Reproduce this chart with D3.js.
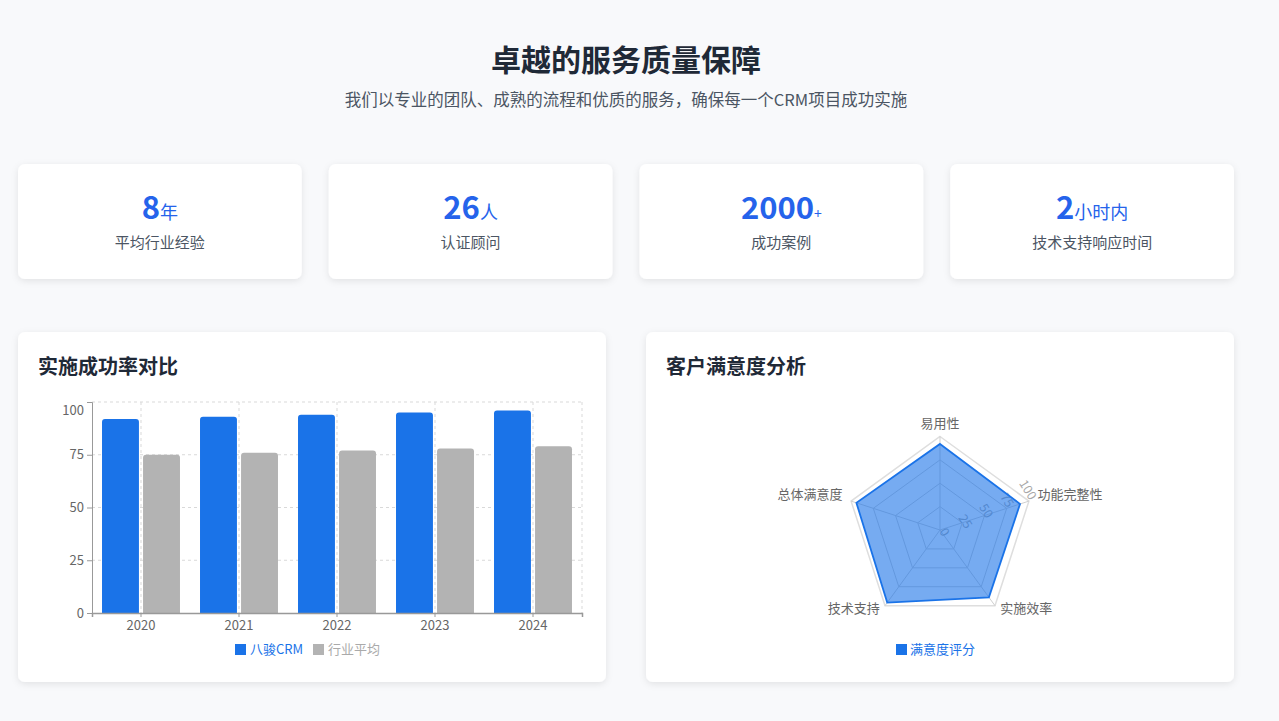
<!DOCTYPE html>
<html><head><meta charset="utf-8">
<script src="https://cdn.jsdelivr.net/npm/d3@7"></script>
<style>
html,body{margin:0;padding:0;background:#f8f9fb;}
svg{display:block;font-family:"Noto Sans CJK SC","Noto Sans",sans-serif;}
</style></head>
<body>
<svg id="c" width="1279" height="721"></svg>
<script>
// ---- data ----
const pageTitle = "卓越的服务质量保障";
const pageSubtitle = "我们以专业的团队、成熟的流程和优质的服务，确保每一个CRM项目成功实施";
const statValues = ["8", "26", "2000", "2"];
const statUnits = ["年", "人", "+", "小时内"];
const statLabels = ["平均行业经验", "认证顾问", "成功案例", "技术支持响应时间"];

const barTitle = "实施成功率对比";
const years = ["2020", "2021", "2022", "2023", "2024"];
const seriesNames = ["八骏CRM", "行业平均"];
const crmRate = [92, 93, 94, 95, 96];
const industryRate = [75, 76, 77, 78, 79];
const yTicks = [0, 25, 50, 75, 100];

const radarTitle = "客户满意度分析";
const radarAxes = ["易用性", "功能完整性", "实施效率", "技术支持", "总体满意度"];
const radarSeries = "满意度评分";
const satisfaction = [92, 90, 89, 96, 94];
const radarTicks = [0, 25, 50, 75, 100];

// ---- drawing ----
const svg = d3.select("#c");
const blue = "#1a73e8", gray = "#b3b3b3", numBlue = "#2563eb";
const FONT = "'Noto Sans CJK SC','Noto Sans',sans-serif";
const defs = svg.append("defs");
const f = defs.append("filter").attr("id","sh").attr("x","-10%").attr("y","-10%").attr("width","120%").attr("height","130%");
f.append("feDropShadow").attr("dx",0).attr("dy",2).attr("stdDeviation",3.5).attr("flood-color","#000").attr("flood-opacity",0.09);

svg.append("text").attr("x",626).attr("y",71).attr("text-anchor","middle")
  .attr("font-size",30).attr("font-weight",700).attr("fill","#1f2937").text(pageTitle);
svg.append("text").attr("x",626).attr("y",106).attr("text-anchor","middle")
  .attr("font-size",16.5).attr("fill","#4b5563").text(pageSubtitle);

// stat cards
const cardX = d3.scaleBand().domain(d3.range(statValues.length)).range([18, 1234]).paddingInner(0.087);
statValues.forEach((v,i)=>{
  const x = cardX(i), w = cardX.bandwidth();
  svg.append("rect").attr("x",x).attr("y",164).attr("width",w).attr("height",115).attr("rx",7)
    .attr("fill","#fff").attr("filter","url(#sh)");
  const t = svg.append("text").attr("x",x+w/2).attr("y",219).attr("text-anchor","middle").attr("fill",numBlue);
  t.append("tspan").attr("font-size",31).attr("font-weight",700).text(v);
  t.append("tspan").attr("font-size", statUnits[i]==="+"?14:18).text(statUnits[i]);
  svg.append("text").attr("x",x+w/2).attr("y",248).attr("text-anchor","middle")
    .attr("font-size",15).attr("fill","#4b5563").text(statLabels[i]);
});

// panels
[[18,barTitle],[646,radarTitle]].forEach(([x,t])=>{
  svg.append("rect").attr("x",x).attr("y",332).attr("width",588).attr("height",350).attr("rx",7)
    .attr("fill","#fff").attr("filter","url(#sh)");
  svg.append("text").attr("x",x+20).attr("y",374).attr("font-size",20).attr("font-weight",700)
    .attr("fill","#1f2937").text(t);
});

// ---- bar chart ----
const bx0 = 92, bx1 = 582, by0 = 613, by1 = 402;
const x0 = d3.scaleBand().domain(years).range([bx0,bx1]);
const x1 = d3.scaleBand().domain(seriesNames).range([0,x0.bandwidth()]).paddingInner(0.1).paddingOuter(0.244);
const y = d3.scaleLinear().domain([0,100]).range([by0,by1]);
const g = svg.append("g");
// grid
g.selectAll(".hg").data(yTicks.filter(d=>d>0)).join("line")
  .attr("x1",bx0).attr("x2",bx1).attr("y1",d=>y(d)).attr("y2",d=>y(d))
  .attr("stroke","#d9d9d9").attr("stroke-dasharray","3,3");
g.selectAll(".vg").data(years).join("line")
  .attr("x1",d=>x0(d)+x0.bandwidth()/2).attr("x2",d=>x0(d)+x0.bandwidth()/2).attr("y1",by1).attr("y2",by0)
  .attr("stroke","#d9d9d9").attr("stroke-dasharray","3,3");
g.append("line").attr("x1",bx1).attr("x2",bx1).attr("y1",by1).attr("y2",by0)
  .attr("stroke","#d9d9d9").attr("stroke-dasharray","3,3");
// bars
const barPath = (x,yy,w,h,r)=>`M${x},${yy+h}V${yy+r}Q${x},${yy} ${x+r},${yy}H${x+w-r}Q${x+w},${yy} ${x+w},${yy+r}V${yy+h}Z`;
const rows = years.map((yr,i)=>({yr, vals:[crmRate[i], industryRate[i]]}));
rows.forEach(r=>{
  r.vals.forEach((v,j)=>{
    const xx = x0(r.yr)+x1(seriesNames[j]);
    g.append("path").attr("d",barPath(xx,y(v),x1.bandwidth(),by0-y(v),3))
      .attr("fill", j===0?blue:gray);
  });
});
// axes
const ya = g.append("g").attr("transform",`translate(${bx0},0)`)
  .call(d3.axisLeft(y).tickValues(yTicks).tickSize(5).tickPadding(3));
ya.select(".domain").attr("stroke","#999");
ya.selectAll(".tick line").attr("stroke","#999");
ya.selectAll("text").attr("font-size",13).attr("fill","#666").attr("font-family",FONT)
  .attr("dy", d => d===100 ? "0.95em" : "0.32em");
const xa = g.append("g").attr("transform",`translate(0,${by0})`)
  .call(d3.axisBottom(x0).tickSize(4).tickPadding(4));
xa.select(".domain").attr("stroke","#999").attr("stroke-width",1.5);
xa.selectAll(".tick line").attr("stroke","#999");
xa.selectAll("text").attr("font-size",13).attr("fill","#666").attr("font-family",FONT);
// legend
const legX = [235, 313];
seriesNames.forEach((s,i)=>{
  g.append("rect").attr("x",legX[i]).attr("y",644).attr("width",11).attr("height",11).attr("fill",i===0?blue:gray);
  g.append("text").attr("x",legX[i]+15).attr("y",654).attr("font-size",13).attr("fill",i===0?blue:"#aaa").text(s);
});

// ---- radar ----
const cx = 940, cy = 530, R = 93.5;
const n = radarAxes.length;
const ang = i => -Math.PI/2 + i*2*Math.PI/n;
const rs = d3.scaleLinear().domain([0,100]).range([0,R]);
const rg = svg.append("g");
const ringPts = v => radarAxes.map((a,i)=>[cx+rs(v)*Math.cos(ang(i)), cy+rs(v)*Math.sin(ang(i))]);
radarTicks.filter(d=>d>0).forEach(t=>{
  rg.append("polygon").attr("points",ringPts(t).map(p=>p.join(",")).join(" "))
    .attr("fill","none").attr("stroke", t===100?"#dedede":"#cfcfcf").attr("stroke-width",t===100?1.5:1);
});
radarAxes.forEach((a,i)=>{
  rg.append("line").attr("x1",cx).attr("y1",cy).attr("x2",cx+R*Math.cos(ang(i))).attr("y2",cy+R*Math.sin(ang(i)))
    .attr("stroke","#cfcfcf");
});
// tick labels (rotated, laid along a line slightly above axis 1), drawn under the fill
const la = -27*Math.PI/180;
radarTicks.forEach(t=>{
  const r = rs(t);
  const px = cx + 5.5 + r*Math.cos(la), py = cy + 1.5 + r*Math.sin(la);
  rg.append("text").attr("transform",`translate(${px},${py}) rotate(58)`)
    .attr("text-anchor","middle").attr("dominant-baseline","central")
    .attr("font-size",12.5).attr("fill","#a8a8a8").text(t);
});
const line = d3.lineRadial().angle((d,i)=>i*2*Math.PI/n).radius(d=>rs(d)).curve(d3.curveLinearClosed);
rg.append("path").attr("transform",`translate(${cx},${cy})`).attr("d",line(satisfaction))
  .attr("fill","rgba(26,115,232,0.6)").attr("stroke",blue).attr("stroke-width",1.8);
// axis labels
radarAxes.forEach((a,i)=>{
  const dx = Math.cos(ang(i)), dy = Math.sin(ang(i));
  const lr = R + 9;
  rg.append("text").attr("x",cx+lr*dx).attr("y",cy+lr*dy-5)
    .attr("text-anchor", dx>0.3?"start":(dx<-0.3?"end":"middle"))
    .attr("dominant-baseline","central").attr("font-size",13).attr("fill","#666").text(a);
});
// legend
rg.append("rect").attr("x",896).attr("y",644).attr("width",11).attr("height",11).attr("fill",blue);
rg.append("text").attr("x",910).attr("y",654).attr("font-size",13).attr("fill",blue).text(radarSeries);
</script>
</body></html>
